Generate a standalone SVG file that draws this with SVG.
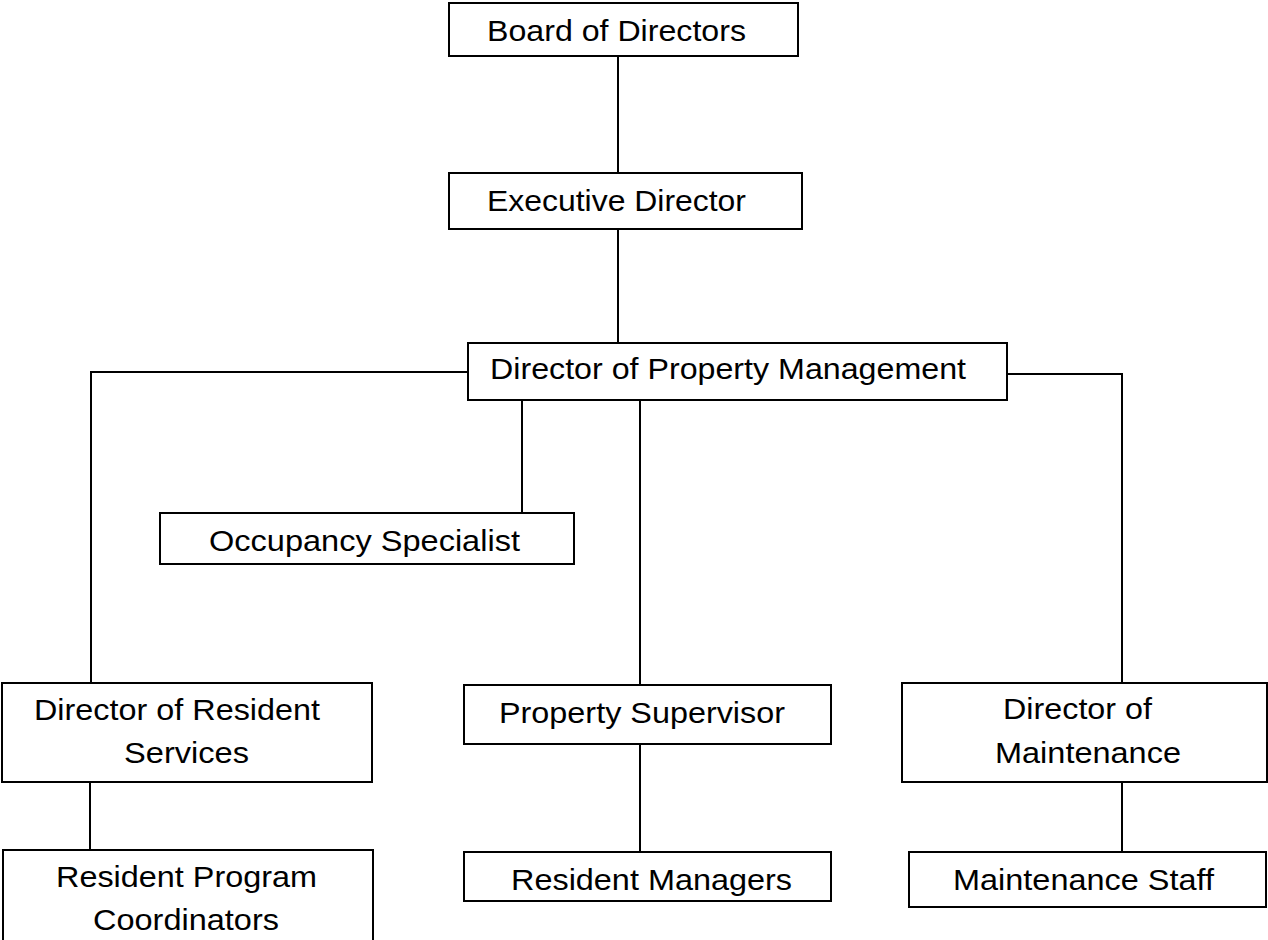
<svg xmlns="http://www.w3.org/2000/svg" width="1268" height="940" viewBox="0 0 1268 940">
<style>
.box{fill:#fff;stroke:#000;stroke-width:2}
.t{font-family:"Liberation Sans",Arial,sans-serif;font-size:29.5px;fill:#000}
.c{fill:none;stroke:#000;stroke-width:2}
</style>
<rect width="1268" height="940" fill="#fff"/>
<g id="connectors">
<line class="c" x1="618" y1="56" x2="618" y2="173"/>
<line class="c" x1="618" y1="229" x2="618" y2="343"/>
<polyline class="c" points="468,372 91,372 91,683"/>
<polyline class="c" points="1007,374 1122,374 1122,683"/>
<line class="c" x1="522" y1="400" x2="522" y2="513"/>
<line class="c" x1="640" y1="400" x2="640" y2="685"/>
<line class="c" x1="90" y1="782" x2="90" y2="850"/>
<line class="c" x1="640" y1="744" x2="640" y2="852"/>
<line class="c" x1="1122" y1="782" x2="1122" y2="852"/>
</g>
<g id="board">
<rect class="box" x="449" y="3" width="349" height="53"/>
<text class="t" transform="translate(487,41) scale(1.09,1)" textLength="237.6" lengthAdjust="spacingAndGlyphs">Board of Directors</text>
</g>
<g id="executive">
<rect class="box" x="449" y="173" width="353" height="56"/>
<text class="t" transform="translate(487,211) scale(1.09,1)" textLength="237.6" lengthAdjust="spacingAndGlyphs">Executive Director</text>
</g>
<g id="dpm">
<rect class="box" x="468" y="343" width="539" height="57"/>
<text class="t" transform="translate(490,379) scale(1.09,1)" textLength="436.7" lengthAdjust="spacingAndGlyphs">Director of Property Management</text>
</g>
<g id="occupancy">
<rect class="box" x="160" y="513" width="414" height="51"/>
<text class="t" transform="translate(209,551) scale(1.09,1)" textLength="285.3" lengthAdjust="spacingAndGlyphs">Occupancy Specialist</text>
</g>
<g id="drs">
<rect class="box" x="2" y="683" width="370" height="99"/>
<text class="t" transform="translate(34,720) scale(1.09,1)" textLength="262.4" lengthAdjust="spacingAndGlyphs">Director of Resident</text>
<text class="t" transform="translate(124,763) scale(1.09,1)" textLength="114.7" lengthAdjust="spacingAndGlyphs">Services</text>
</g>
<g id="supervisor">
<rect class="box" x="464" y="685" width="367" height="59"/>
<text class="t" transform="translate(499,723) scale(1.09,1)" textLength="262.4" lengthAdjust="spacingAndGlyphs">Property Supervisor</text>
</g>
<g id="dom">
<rect class="box" x="902" y="683" width="365" height="99"/>
<text class="t" transform="translate(1003,719) scale(1.09,1)" textLength="136.7" lengthAdjust="spacingAndGlyphs">Director of</text>
<text class="t" transform="translate(995,763) scale(1.09,1)" textLength="170.6" lengthAdjust="spacingAndGlyphs">Maintenance</text>
</g>
<g id="rpc">
<rect class="box" x="3" y="850" width="370" height="100"/>
<text class="t" transform="translate(56,887) scale(1.09,1)" textLength="239.4" lengthAdjust="spacingAndGlyphs">Resident Program</text>
<text class="t" transform="translate(93,930) scale(1.09,1)" textLength="170.6" lengthAdjust="spacingAndGlyphs">Coordinators</text>
</g>
<g id="managers">
<rect class="box" x="464" y="852" width="367" height="49"/>
<text class="t" transform="translate(511,890) scale(1.09,1)" textLength="257.8" lengthAdjust="spacingAndGlyphs">Resident Managers</text>
</g>
<g id="staff">
<rect class="box" x="909" y="852" width="357" height="55"/>
<text class="t" transform="translate(953,890) scale(1.09,1)" textLength="239.4" lengthAdjust="spacingAndGlyphs">Maintenance Staff</text>
</g>
</svg>
